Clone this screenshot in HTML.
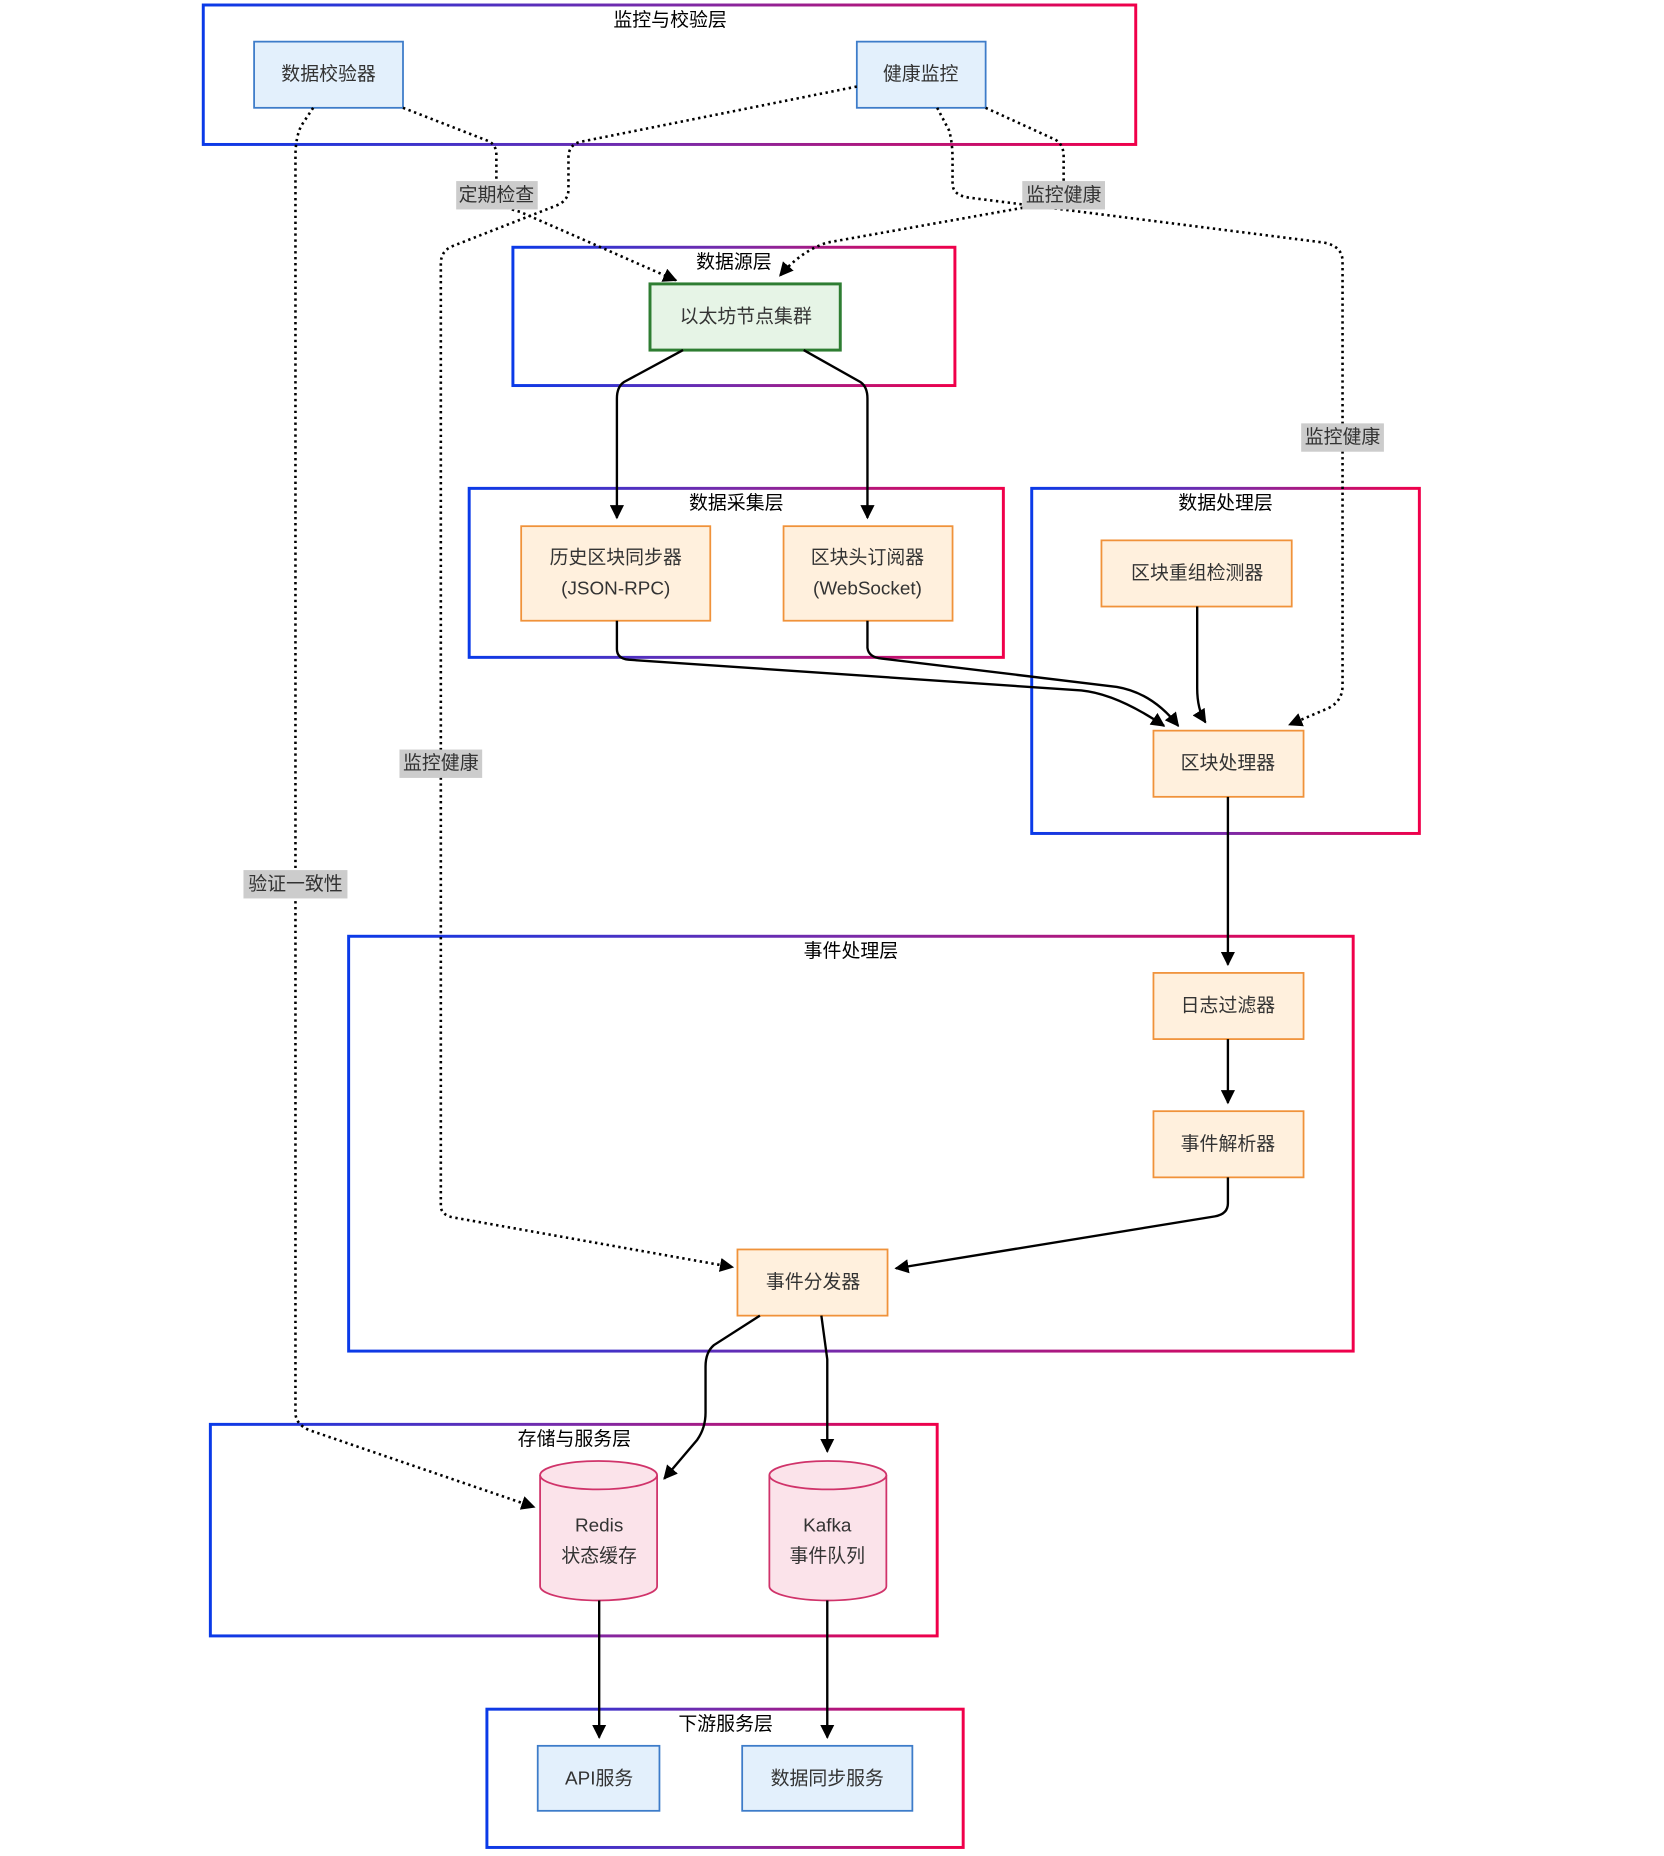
<!DOCTYPE html>
<html><head><meta charset="utf-8">
<style>
html,body{margin:0;padding:0;background:#fff;}
svg{display:block;}
text{font-family:"Liberation Sans","Noto Sans CJK SC",sans-serif;}
.t{font-size:16px;fill:#333;text-anchor:middle;dominant-baseline:central;}
.g{font-size:16px;fill:#000;text-anchor:middle;dominant-baseline:central;}
.lb{font-size:16px;fill:#333;text-anchor:middle;dominant-baseline:central;}
</style></head>
<body>
<svg width="1664" height="1856" viewBox="0 0 1408 1570" xmlns="http://www.w3.org/2000/svg">
<defs>
<linearGradient id="gr" x1="0" y1="0" x2="1" y2="0">
<stop offset="0" stop-color="#0a3ae8"/><stop offset="0.5" stop-color="#7a2aa8"/><stop offset="1" stop-color="#f0004a"/>
</linearGradient>
<marker id="ar" viewBox="0 0 10 10" refX="9" refY="5" markerWidth="12" markerHeight="12" markerUnits="userSpaceOnUse" orient="auto">
<path d="M0,0 L10,5 L0,10 z" fill="#000"/>
</marker>
</defs>

<!-- groups -->
<g fill="none" stroke="url(#gr)" stroke-width="2.5">
<rect x="172" y="4" width="789" height="118"/>
<rect x="434" y="209" width="374" height="117"/>
<rect x="397" y="413" width="452" height="143"/>
<rect x="873" y="413" width="328" height="292"/>
<rect x="295" y="792" width="850" height="351"/>
<rect x="178" y="1205" width="615" height="179"/>
<rect x="412" y="1446" width="403" height="117"/>
</g>
<text class="g" x="567" y="17">监控与校验层</text>
<text class="g" x="621" y="222">数据源层</text>
<text class="g" x="623" y="426">数据采集层</text>
<text class="g" x="1037" y="426">数据处理层</text>
<text class="g" x="720" y="805">事件处理层</text>
<text class="g" x="486" y="1218">存储与服务层</text>
<text class="g" x="614" y="1459">下游服务层</text>

<!-- nodes -->
<g stroke-width="1.5">
<rect x="215" y="35" width="126" height="56" fill="#e3f0fc" stroke="#3d7cc9"/>
<rect x="725" y="35" width="109" height="56" fill="#e3f0fc" stroke="#3d7cc9"/>
<rect x="550" y="240" width="161" height="56" fill="#e6f4e6" stroke="#2e7d32" stroke-width="2.5"/>
<rect x="441" y="445" width="160" height="80" fill="#fff0dd" stroke="#f0923a"/>
<rect x="663" y="445" width="143" height="80" fill="#fff0dd" stroke="#f0923a"/>
<rect x="932" y="457" width="161" height="56" fill="#fff0dd" stroke="#f0923a"/>
<rect x="976" y="618" width="127" height="56" fill="#fff0dd" stroke="#f0923a"/>
<rect x="976" y="823" width="127" height="56" fill="#fff0dd" stroke="#f0923a"/>
<rect x="976" y="940" width="127" height="56" fill="#fff0dd" stroke="#f0923a"/>
<rect x="624" y="1057" width="127" height="56" fill="#fff0dd" stroke="#f0923a"/>
<rect x="455" y="1477" width="103" height="55" fill="#e3f0fc" stroke="#3d7cc9"/>
<rect x="628" y="1477" width="144" height="55" fill="#e3f0fc" stroke="#3d7cc9"/>
<!-- cylinders -->
<path d="M457,1248 L457,1342 A49.5,12 0 0 0 556,1342 L556,1248" fill="#fbe3ea" stroke="#d0336a"/>
<ellipse cx="506.5" cy="1248" rx="49.5" ry="12" fill="#fbe3ea" stroke="#d0336a"/>
<path d="M651,1248 L651,1342 A49.5,12 0 0 0 750,1342 L750,1248" fill="#fbe3ea" stroke="#d0336a"/>
<ellipse cx="700.5" cy="1248" rx="49.5" ry="12" fill="#fbe3ea" stroke="#d0336a"/>
</g>
<text class="t" x="278" y="63">数据校验器</text>
<text class="t" x="779" y="63">健康监控</text>
<text class="t" x="631" y="268">以太坊节点集群</text>
<text class="t" x="521" y="472">历史区块同步器</text>
<text class="t" x="521" y="498">(JSON-RPC)</text>
<text class="t" x="734" y="472">区块头订阅器</text>
<text class="t" x="734" y="498">(WebSocket)</text>
<text class="t" x="1013" y="485">区块重组检测器</text>
<text class="t" x="1039" y="646">区块处理器</text>
<text class="t" x="1039" y="851">日志过滤器</text>
<text class="t" x="1039" y="968">事件解析器</text>
<text class="t" x="688" y="1085">事件分发器</text>
<text class="t" x="507" y="1291">Redis</text>
<text class="t" x="507" y="1317">状态缓存</text>
<text class="t" x="700" y="1291">Kafka</text>
<text class="t" x="700" y="1317">事件队列</text>
<text class="t" x="507" y="1505">API服务</text>
<text class="t" x="700" y="1505">数据同步服务</text>

<!-- solid edges -->
<g fill="none" stroke="#000" stroke-width="2" marker-end="url(#ar)">
<path d="M578,296 L528,323 Q522,327 522,337 L522,438"/>
<path d="M680,296 L728,323 Q734,327 734,337 L734,438"/>
<path d="M522,525 L522,549 Q522,557 532,558 L915,584 Q945,587 985,614"/>
<path d="M734,525 L734,548 Q735,556 746,557 L945,581 Q975,586 997,614"/>
<path d="M1013,513 L1013,582 Q1013,600 1020,611"/>
<path d="M1039,674 L1039,816"/>
<path d="M1039,879 L1039,933"/>
<path d="M1039,996 L1039,1018 Q1039,1027 1028,1029 L758,1073"/>
<path d="M643,1113 L604,1138 Q597,1144 597,1156 L597,1195 Q597,1208 590,1218 L562,1251"/>
<path d="M695,1113 L700,1150 L700,1228"/>
<path d="M507,1354 L507,1470"/>
<path d="M700,1354 L700,1470"/>
</g>

<!-- dotted edges -->
<g fill="none" stroke="#000" stroke-width="2.2" stroke-dasharray="2 3" marker-end="url(#ar)">
<path d="M265,91 L255,106 Q250,116 250,132 L250,1195 Q250,1205 262,1210 L452,1275"/>
<path d="M341,91 L413,119 Q420,122 420,131 L420,165 Q420,174 440,179 L572,237"/>
<path d="M725,73 L490,120 Q481,123 481,133 L481,160 Q481,170 470,174 L383,208 Q373,212 373,223 L373,1020 Q373,1028 384,1030 L620,1072"/>
<path d="M834,91 L893,118 Q900,122 900,132 L900,160 Q900,170 880,173 L700,205 Q678,212 660,233"/>
<path d="M793,91 L803,110 Q806,120 806,135 L806,155 Q806,165 820,167 L1120,205 Q1136,208 1136,221 L1136,580 Q1136,593 1124,599 L1091,613"/>
</g>

<!-- edge labels -->
<g fill="#cccccc">
<rect x="386" y="153" width="69" height="24"/>
<rect x="865" y="153" width="70" height="24"/>
<rect x="1101" y="358" width="70" height="24"/>
<rect x="338" y="634" width="70" height="24"/>
<rect x="206" y="736" width="88" height="24"/>
</g>
<text class="lb" x="420" y="165">定期检查</text>
<text class="lb" x="900" y="165">监控健康</text>
<text class="lb" x="1136" y="370">监控健康</text>
<text class="lb" x="373" y="646">监控健康</text>
<text class="lb" x="250" y="748">验证一致性</text>
</svg>
</body></html>
